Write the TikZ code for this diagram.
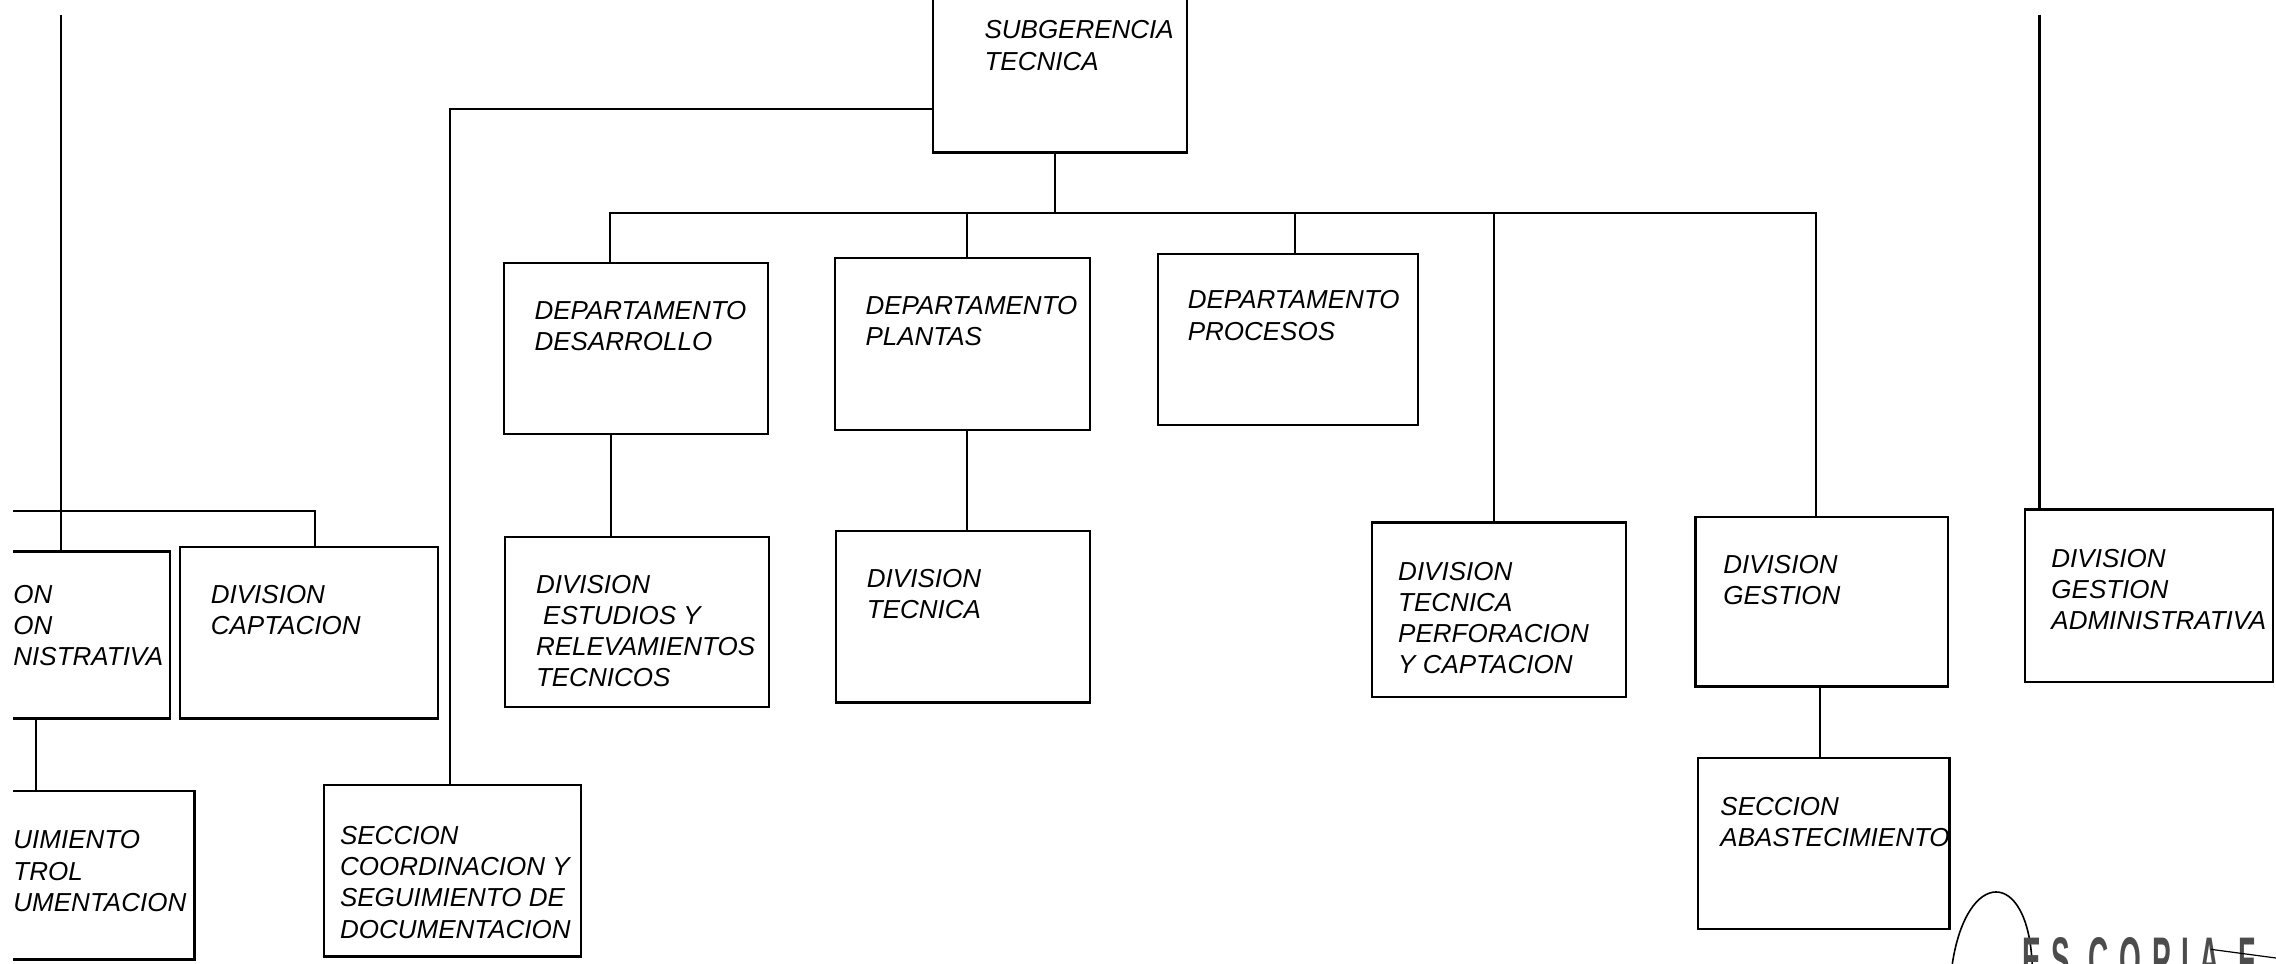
\documentclass[tikz,border=0pt]{standalone}
\usepackage{fontspec}
\setmainfont{Liberation Sans}
\usetikzlibrary{fit}

\tikzset{
  orgbox/.style={draw, line width=1.1pt, inner sep=0pt},
  lbl/.style={anchor=north west, inner sep=0pt, align=left,
              font=\fontsize{13pt}{15.6pt}\selectfont\itshape},
  link/.style={line width=1.1pt},
}

\begin{document}
\begin{tikzpicture}[x=0.7258pt, y=-0.7258pt, line join=miter]
\useasboundingbox (0,0) rectangle (1568,664);
\begin{scope}
\clip (9,0) rectangle (1568,664);

% ---------- boxes ----------
\node[orgbox, fit={(643,-20) (818,105)}] (sg) {};
\node[orgbox, fit={(347,181) (529,299)}] (dd) {};
\node[orgbox, fit={(575,178) (751,296)}] (dp) {};
\node[orgbox, fit={(798,175) (977,293)}] (dr) {};
\node[orgbox, fit={(348,370) (530,487)}] (de) {};
\node[orgbox, fit={(576,366) (751,484)}] (dt) {};
\node[orgbox, fit={(945,360) (1120,480)}] (tp) {};
\node[orgbox, fit={(1168,356) (1342,473)}] (dg) {};
\node[orgbox, fit={(1170,522) (1343,640)}] (sa) {};
\node[orgbox, fit={(1395,351) (1566,470)}] (ga) {};
\node[orgbox, fit={(-20,380) (117,495)}] (lb) {};
\node[orgbox, fit={(124,377) (302,495)}] (ca) {};
\node[orgbox, fit={(-20,545) (134,661)}] (bl) {};
\node[orgbox, fit={(223,541) (400,659)}] (sc) {};

% ---------- texts ----------
\node[lbl] (sgt) at (678,14)  {SUBGERENCIA\\TECNICA};
\node[lbl] (ddt) at (368,207) {DEPARTAMENTO\\DESARROLLO};
\node[lbl] (dpt) at (596,204) {DEPARTAMENTO\\PLANTAS};
\node[lbl] (drt) at (818,200) {DEPARTAMENTO\\PROCESOS};
\node[lbl] (det) at (369,396) {DIVISION\\\hspace{3.6pt}ESTUDIOS Y\\RELEVAMIENTOS\\TECNICOS};
\node[lbl] (dtt) at (597,392) {DIVISION\\TECNICA};
\node[lbl] (tpt) at (963,387) {DIVISION\\TECNICA\\PERFORACION\\Y CAPTACION};
\node[lbl] (dgt) at (1187,382) {DIVISION\\GESTION};
\node[lbl] (sat) at (1185,549) {SECCION\\ABASTECIMIENTO};
\node[lbl] (gat) at (1413,378) {DIVISION\\GESTION\\ADMINISTRATIVA};
\node[lbl] (lbt) at (9,403)   {ON\\ON\\NISTRATIVA};
\node[lbl] (cat) at (145,403) {DIVISION\\CAPTACION};
\node[lbl] (blt) at (9,572)   {UIMIENTO\\TROL\\UMENTACION};
\node[lbl] (sct) at (234,569) {SECCION\\COORDINACION Y\\SEGUIMIENTO DE\\DOCUMENTACION};

% ---------- connector positions ----------
\coordinate (bus) at (0,147);
\coordinate (xa) at (727,0);
\coordinate (x1) at (420,0);
\coordinate (x2) at (666,0);
\coordinate (x3) at (892,0);
\coordinate (x4) at (1029,0);
\coordinate (x5) at (1251,0);
\coordinate (xd) at (421,0);
\coordinate (xg) at (1254,0);
\coordinate (xs) at (310,0);
\coordinate (ys) at (0,75);
\coordinate (lt) at (42,10);
\coordinate (lh) at (9,352);
\coordinate (xc) at (217,0);
\coordinate (xl) at (25,0);
\coordinate (rt) at (1405,10);

% ---------- connectors ----------
\draw[link] (xa |- sg.south) -- (xa |- bus);
\draw[link] (x1 |- dd.north) -- (x1 |- bus) -- (x5 |- bus) -- (x5 |- dg.north);
\draw[link] (x2 |- bus) -- (x2 |- dp.north);
\draw[link] (x3 |- bus) -- (x3 |- dr.north);
\draw[link] (x4 |- bus) -- (x4 |- tp.north);
\draw[link] (sg.west |- ys) -- (xs |- ys) -- (xs |- sc.north);
\draw[link] (xd |- dd.south) -- (xd |- de.north);
\draw[link] (x2 |- dp.south) -- (x2 |- dt.north);
\draw[link] (xg |- dg.south) -- (xg |- sa.north);
\draw[link] (lt) -- (lt |- lb.north);
\draw[link] (lh) -- (xc |- lh) -- (xc |- ca.north);
\draw[link] (xl |- lb.south) -- (xl |- bl.north);
\draw[link] (rt) -- (rt |- ga.north);

% ---------- stamp ----------
\draw[line width=0.8pt] (1345,664) .. controls (1355,598) and (1397,598) .. (1400,664);
\node[anchor=north west, inner sep=0pt, text=black!70] (stamp) at (1393,645.5)
  {\scalebox{1}[2.2]{\fontsize{14pt}{14pt}\selectfont\bfseries\addfontfeature{LetterSpace=38}ES COPIA F}};
\draw[line width=0.6pt] (1523,654) -- (1568,660);
\end{scope}
\end{tikzpicture}
\end{document}
